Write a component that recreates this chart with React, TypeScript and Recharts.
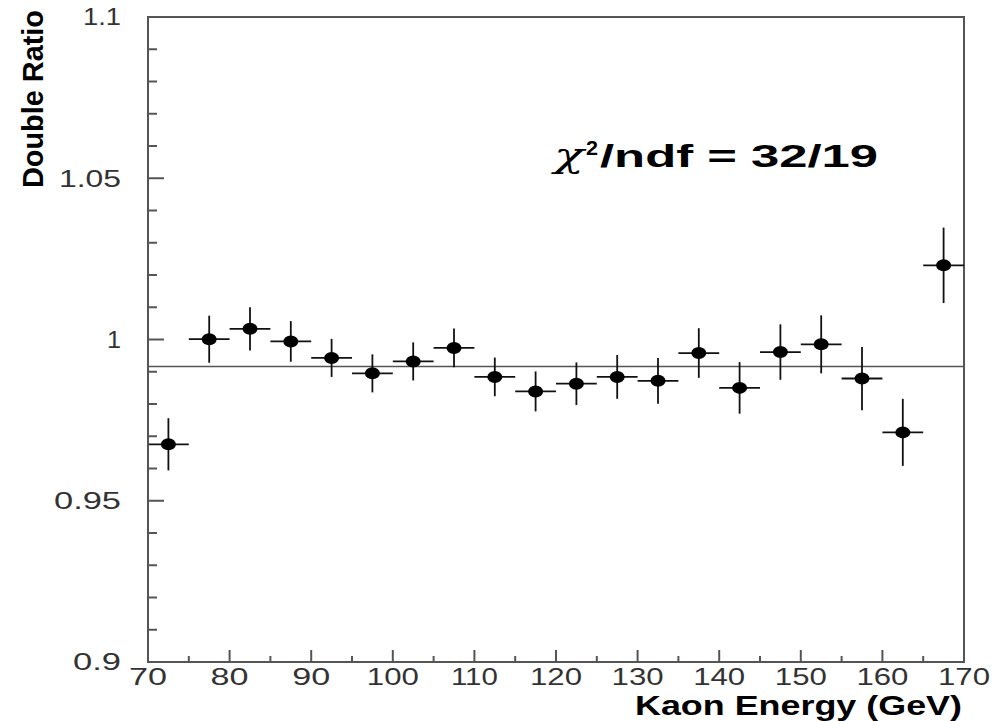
import React from "react";
import {
  ScatterChart,
  Scatter,
  XAxis,
  YAxis,
  ErrorBar,
  ReferenceLine,
  ReferenceArea,
} from "recharts";

// ---- data ----
const energies = [72.5, 77.5, 82.5, 87.5, 92.5, 97.5, 102.5, 107.5, 112.5, 117.5, 122.5, 127.5, 132.5, 137.5, 142.5, 147.5, 152.5, 157.5, 162.5, 167.5];
const doubleRatio = [0.9675, 1.0001, 1.0033, 0.9994, 0.9943, 0.9895, 0.9932, 0.9974, 0.9884, 0.9839, 0.9863, 0.9884, 0.9872, 0.9958, 0.985, 0.9961, 0.9985, 0.9879, 0.9712, 1.023];
const ratioErrors = [0.0081, 0.0073, 0.0067, 0.0063, 0.0059, 0.0059, 0.0059, 0.006, 0.006, 0.0062, 0.0066, 0.0068, 0.0071, 0.0077, 0.008, 0.0086, 0.009, 0.0098, 0.0104, 0.0117];
const binHalfWidths = [2.5, 2.5, 2.5, 2.5, 2.5, 2.5, 2.5, 2.5, 2.5, 2.5, 2.5, 2.5, 2.5, 2.5, 2.5, 2.5, 2.5, 2.5, 2.5, 2.5];
const fitValue = 0.9916;

const xMajorTicks = [70, 80, 90, 100, 110, 120, 130, 140, 150, 160, 170];
const xMinorTicks = [75, 85, 95, 105, 115, 125, 135, 145, 155, 165];
const xTickLabels = ["70", "80", "90", "100", "110", "120", "130", "140", "150", "160", "170"];
const yMajorTicks = [0.9, 0.95, 1.0, 1.05, 1.1];
const yMinorTicks = [0.91, 0.92, 0.93, 0.94, 0.96, 0.97, 0.98, 0.99, 1.01, 1.02, 1.03, 1.04, 1.06, 1.07, 1.08, 1.09];
const yTickLabels = ["0.9", "0.95", "1", "1.05", "1.1"];

const xTitle = "Kaon Energy (GeV)";
const yTitle = "Double Ratio";
const chiSymbol = "χ";
const chiPower = "2";
const fitText = "/ndf = 32/19";

const data = energies.map((e, i) => ({
  x: e,
  y: doubleRatio[i],
  ex: binHalfWidths[i],
  ey: ratioErrors[i],
}));

const AXIS = "#555";
const FONT = "'Liberation Sans', Arial, Helvetica, sans-serif";

function labelWidth(s: string) {
  let w = 0;
  for (const c of s) {
    if (c === "1") w += 14;
    else if (c === ".") w += 10;
    else w += 19;
  }
  return w;
}

function findIndex(arr: number[], v: number) {
  return arr.findIndex((a) => Math.abs(a - v) < 1e-6);
}

const YTick = (props: any) => {
  const { x, y, payload } = props;
  const idx = findIndex(yMajorTicks, payload.value);
  const major = idx >= 0;
  return (
    <g>
      <line x1={x} x2={x + (major ? 16 : 9)} y1={y} y2={y} stroke={AXIS} strokeWidth={2} />
      {major && (
        <text
          x={x - 27}
          y={y}
          dy="0.36em"
          textAnchor="end"
          fontFamily={FONT}
          fontSize={23}
          fill="#333"
          textLength={labelWidth(yTickLabels[idx])}
          lengthAdjust="spacingAndGlyphs"
        >
          {yTickLabels[idx]}
        </text>
      )}
    </g>
  );
};

const XTick = (props: any) => {
  const { x, y, payload } = props;
  const idx = findIndex(xMajorTicks, payload.value);
  const major = idx >= 0;
  return (
    <g>
      <line x1={x} x2={x} y1={y} y2={y - (major ? 12 : 6)} stroke={AXIS} strokeWidth={2} />
      {major && (
        <text
          x={x}
          y={y + 23}
          textAnchor="middle"
          fontFamily={FONT}
          fontSize={23}
          fill="#333"
          textLength={labelWidth(xTickLabels[idx])}
          lengthAdjust="spacingAndGlyphs"
        >
          {xTickLabels[idx]}
        </text>
      )}
    </g>
  );
};

const Marker = (props: any) => {
  const { cx, cy } = props;
  return <ellipse cx={cx} cy={cy} rx={7.5} ry={6} fill="#000" />;
};

export default function App() {
  return (
    <div style={{ position: "absolute", left: 0, top: 0, width: 994, height: 721, background: "#fff" }}>
      <ScatterChart
        width={994}
        height={721}
        margin={{ top: 17, right: 30, bottom: 29, left: 88 }}
      >
        <XAxis
          type="number"
          dataKey="x"
          domain={[70, 170]}
          ticks={[...xMajorTicks, ...xMinorTicks].sort((a, b) => a - b)}
          interval={0}
          tick={<XTick />}
          tickLine={false}
          tickSize={0}
          tickMargin={0}
          height={30}
          axisLine={{ stroke: AXIS, strokeWidth: 2 }}
          allowDataOverflow
        />
        <YAxis
          type="number"
          dataKey="y"
          domain={[0.9, 1.1]}
          ticks={[...yMajorTicks, ...yMinorTicks].sort((a, b) => a - b)}
          interval={0}
          tick={<YTick />}
          tickLine={false}
          tickSize={0}
          tickMargin={0}
          width={60}
          axisLine={{ stroke: AXIS, strokeWidth: 2 }}
          allowDataOverflow
        />
        <ReferenceArea
          x1={70}
          x2={170}
          y1={0.9}
          y2={1.1}
          fill="none"
          fillOpacity={0}
          stroke={AXIS}
          strokeWidth={2}
          ifOverflow="visible"
        />
        <ReferenceLine y={fitValue} stroke={AXIS} strokeWidth={1.5} />
        <Scatter data={data} shape={<Marker />} isAnimationActive={false}>
          <ErrorBar dataKey="ey" direction="y" width={0} stroke="#111" strokeWidth={1.8} isAnimationActive={false} />
          <ErrorBar dataKey="ex" direction="x" width={0} stroke="#111" strokeWidth={1.8} isAnimationActive={false} />
        </Scatter>
      </ScatterChart>
      <svg
        width={994}
        height={721}
        style={{ position: "absolute", left: 0, top: 0, pointerEvents: "none" }}
      >
        <text
          x={962}
          y={715}
          textAnchor="end"
          fontFamily={FONT}
          fontWeight="bold"
          fontSize={28}
          fill="#000"
          textLength={327}
          lengthAdjust="spacingAndGlyphs"
        >
          {xTitle}
        </text>
        <text
          transform="translate(43,99) rotate(-90)"
          x={0}
          y={0}
          textAnchor="middle"
          fontFamily={FONT}
          fontWeight="bold"
          fontSize={30}
          fill="#000"
          textLength={178}
          lengthAdjust="spacingAndGlyphs"
        >
          {yTitle}
        </text>
        <text
          x={554}
          y={167}
          fontFamily="'DejaVu Serif', 'Liberation Serif', serif"
          fontStyle="italic"
          fontSize={34}
          fill="#000"
          textLength={30}
          lengthAdjust="spacingAndGlyphs"
        >
          {chiSymbol}
        </text>
        <text
          x={586}
          y={155}
          fontFamily={FONT}
          fontWeight="bold"
          fontSize={21}
          fill="#000"
          textLength={12}
          lengthAdjust="spacingAndGlyphs"
        >
          {chiPower}
        </text>
        <text
          x={600}
          y={167}
          fontFamily={FONT}
          fontWeight="bold"
          fontSize={31}
          fill="#000"
          textLength={278}
          lengthAdjust="spacingAndGlyphs"
        >
          {fitText}
        </text>
      </svg>
    </div>
  );
}
